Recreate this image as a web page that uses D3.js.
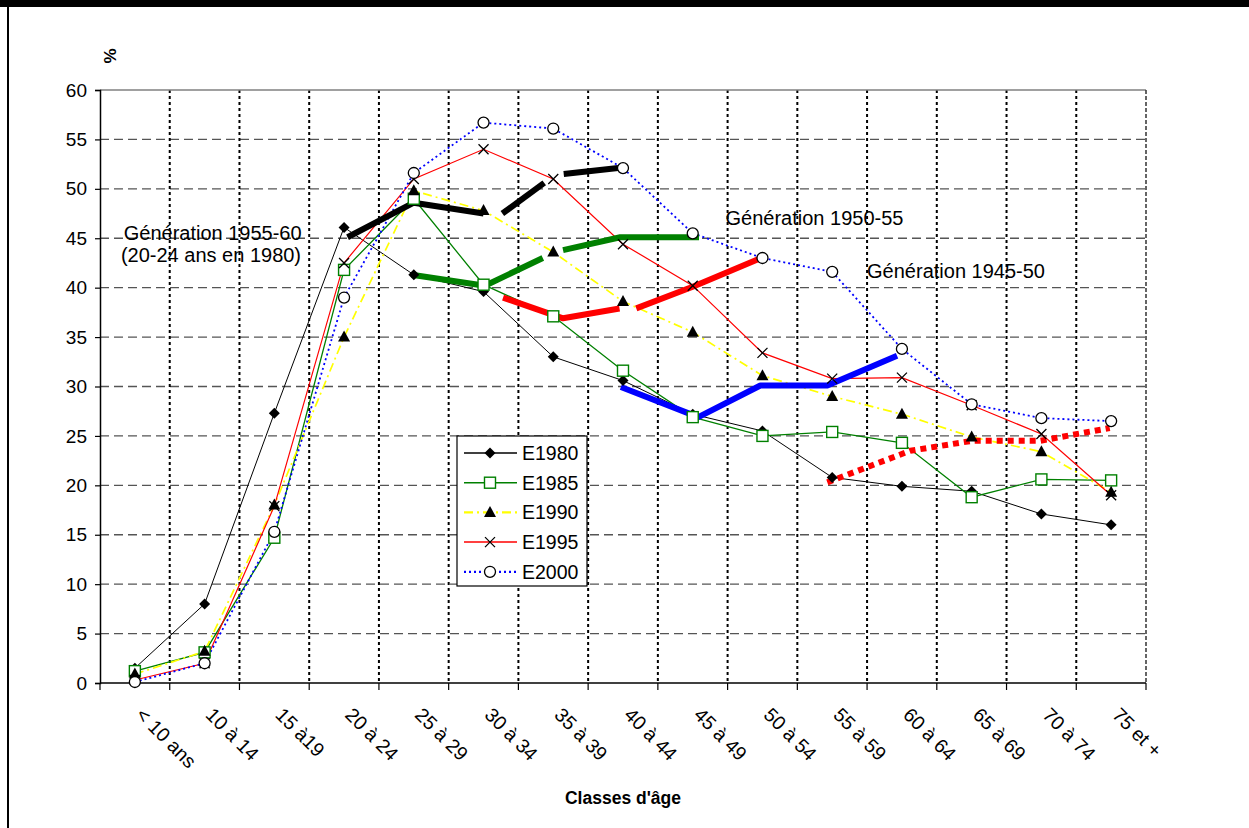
<!DOCTYPE html>
<html>
<head>
<meta charset="utf-8">
<script src="https://cdn.jsdelivr.net/npm/d3@7"></script>
<style>
  html, body { margin: 0; padding: 0; background: #fff; }
  svg { display: block; font-family: Arial, "Liberation Sans", sans-serif; }
</style>
</head>
<body>
<svg id="chart" width="1249" height="828"></svg>
<script>
// ---------------- DATA ----------------
const categories = ["< 10 ans","10 à 14","15 à19","20 à 24","25 à 29","30 à 34","35 à 39","40 à 44","45 à 49","50 à 54","55 à 59","60 à 64","65 à 69","70 à 74","75 et +"];
const yTicks = [0,5,10,15,20,25,30,35,40,45,50,55,60];
const seriesNames = ["E1980","E1985","E1990","E1995","E2000"];
const e1980 = [1.5, 8.0, 27.3, 46.1, 41.3, 39.6, 33.0, 30.6, 27.2, 25.5, 20.8, 19.9, 19.4, 17.1, 16.0];
const e1985 = [1.2, 3.1, 14.7, 41.8, 49.0, 40.3, 37.1, 31.6, 26.9, 25.0, 25.4, 24.3, 18.8, 20.6, 20.5];
const e1990 = [0.9, 3.2, 18.0, 35.0, 49.8, 47.8, 43.6, 38.6, 35.5, 31.1, 29.0, 27.2, 24.9, 23.4, 19.3];
const e1995 = [0.3, 2.0, 17.9, 42.5, 51.0, 54.0, 51.0, 44.4, 40.2, 33.4, 30.8, 30.9, 28.1, 25.2, 19.0];
const e2000 = [0.1, 2.0, 15.3, 39.0, 51.6, 56.7, 56.1, 52.1, 45.5, 43.0, 41.6, 33.8, 28.2, 26.8, 26.5];

// hand-drawn cohort lines: [category index (fractional), value]
const genBlack = [[[3.05,45.1],[4.0,48.6],[5.0,47.5]], [[5.27,47.5],[5.87,50.6]], [[6.15,51.5],[6.93,52.1]]];
const genGreen = [[[3.97,41.3],[5.02,40.2],[5.85,43.0]], [[6.14,43.8],[6.96,45.1],[8.09,45.1]]];
const genRed   = [[[5.28,39.0],[6.14,36.9],[6.95,37.9]], [[7.19,37.9],[8.0,40.1],[8.98,43.0]]];
const genBlue  = [[[6.97,29.95],[8.08,26.9],[8.97,30.1],[9.93,30.1],[10.93,33.1]]];
const genRedDot= [[[9.93,20.3],[11.12,23.5],[12.0,24.5],[12.98,24.5],[13.98,25.8]]];

const annotations = [
  {text:"Génération 1955-60", i:-0.16, v:44.8},
  {text:"(20-24 ans en 1980)", i:-0.2, v:42.6},
  {text:"Génération 1950-55", i:8.47, v:46.3},
  {text:"Génération 1945-50", i:10.5, v:41.0}
];

// ---------------- LAYOUT ----------------
const svg = d3.select("#chart");
const L = 100, R = 1146, T = 90, B = 683;
const x = d3.scaleBand().domain(categories).range([L, R]).padding(0);
const xi = d3.scaleLinear().domain([-0.5, categories.length - 0.5]).range([L, R]);
const y = d3.scaleLinear().domain([0, 60]).range([B, T]);
const cx = i => x(categories[i]) + x.bandwidth() / 2;

// outer frame
svg.append("rect").attr("x",0).attr("y",0).attr("width",1249).attr("height",7).attr("fill","#000");
svg.append("line").attr("x1",8).attr("x2",8).attr("y1",0).attr("y2",828).attr("stroke","#000").attr("stroke-width",2);

// horizontal gridlines
svg.append("g").selectAll("line").data(yTicks.filter(t => t > 0 && t < 60)).join("line")
  .attr("x1", L).attr("x2", R).attr("y1", d => y(d)).attr("y2", d => y(d))
  .attr("stroke", "#555").attr("stroke-width", 1.3).attr("stroke-dasharray", "9,5");

// vertical gridlines
svg.append("g").selectAll("line").data(categories.slice(1)).join("line")
  .attr("x1", d => x(d)).attr("x2", d => x(d)).attr("y1", T).attr("y2", B)
  .attr("stroke", "#000").attr("stroke-width", 2).attr("stroke-dasharray", "3,3");

// plot border top / right
svg.append("line").attr("x1",L).attr("x2",R).attr("y1",T).attr("y2",T).attr("stroke","#808080").attr("stroke-width",1.5);
svg.append("line").attr("x1",R).attr("x2",R).attr("y1",T).attr("y2",B).attr("stroke","#333").attr("stroke-width",1.5).attr("stroke-dasharray","4,2");

// y axis
const yAxis = d3.axisLeft(y).tickValues(yTicks).tickSize(5).tickPadding(8);
const gy = svg.append("g").attr("transform", `translate(${L},0)`).call(yAxis);
gy.select(".domain").attr("stroke","#000").attr("stroke-width",1.5);
gy.selectAll(".tick line").attr("stroke","#000").attr("stroke-width",1.2);
gy.selectAll(".tick text").attr("font-size", 19).attr("fill","#000").attr("font-family","Arial, 'Liberation Sans', sans-serif");

// x axis (ticks at category boundaries)
const boundaries = d3.range(categories.length + 1);
svg.append("line").attr("x1",L).attr("x2",R).attr("y1",B).attr("y2",B).attr("stroke","#000").attr("stroke-width",1.5);
svg.append("g").selectAll("line").data(boundaries).join("line")
  .attr("x1", d => xi(d - 0.5)).attr("x2", d => xi(d - 0.5)).attr("y1", B).attr("y2", B + 7)
  .attr("stroke", "#000").attr("stroke-width", 1.2);
svg.append("g").selectAll("text").data(categories).join("text")
  .attr("transform", (d,i) => `translate(${cx(i) + 0},${B + 33}) rotate(45)`)
  .attr("font-size", 19.5).attr("fill","#000").text(d => d);

// axis titles
svg.append("text").attr("x", 623).attr("y", 804).attr("text-anchor","middle")
  .attr("font-size", 17.5).attr("font-weight","bold").text("Classes d'âge");
svg.append("text").attr("transform","translate(116,56) rotate(-90)").attr("text-anchor","middle")
  .attr("font-size", 17).attr("font-weight","bold").text("%");

// ---------------- SERIES ----------------
const series = [
  {name:seriesNames[0], values:e1980, color:"#000", width:1, dash:null, marker:"diamond"},
  {name:seriesNames[1], values:e1985, color:"#008000", width:1.3, dash:null, marker:"square"},
  {name:seriesNames[2], values:e1990, color:"#FFFF00", width:1.7, dash:"9,4,2,4", marker:"triangle"},
  {name:seriesNames[3], values:e1995, color:"#FF0000", width:1.2, dash:null, marker:"cross"},
  {name:seriesNames[4], values:e2000, color:"#0000FF", width:1.8, dash:"2,3", marker:"circle"}
];

const line = d3.line().x((d,i) => cx(i)).y(d => y(d));
const gLines = svg.append("g");
series.forEach(s => {
  gLines.append("path").datum(s.values).attr("d", line)
    .attr("fill","none").attr("stroke", s.color).attr("stroke-width", s.width)
    .attr("stroke-dasharray", s.dash);
});

// cohort thick lines
const gline = d3.line().x(d => xi(d[0])).y(d => y(d[1]));
const gens = [
  {segs:genBlack, color:"#000", dash:null},
  {segs:genGreen, color:"#008000", dash:null},
  {segs:genRed, color:"#FF0000", dash:null},
  {segs:genBlue, color:"#0000FF", dash:null},
  {segs:genRedDot, color:"#FF0000", dash:"6,5"}
];
const gGen = svg.append("g");
gens.forEach(g => {
  g.segs.forEach(seg => {
    gGen.append("path").datum(seg).attr("d", gline)
      .attr("fill","none").attr("stroke", g.color).attr("stroke-width", 6)
      .attr("stroke-linejoin","round").attr("stroke-dasharray", g.dash);
  });
});

// markers
function drawMarker(g, type, px, py) {
  if (type === "diamond") {
    g.append("path").attr("d", `M${px},${py-5.5}L${px+5.5},${py}L${px},${py+5.5}L${px-5.5},${py}Z`).attr("fill","#000");
  } else if (type === "square") {
    g.append("rect").attr("x", px-5.5).attr("y", py-5.5).attr("width", 11).attr("height", 11)
      .attr("fill","#fff").attr("stroke","#008000").attr("stroke-width",1.4);
  } else if (type === "triangle") {
    g.append("path").attr("d", `M${px},${py-6.5}L${px+6},${py+4.5}L${px-6},${py+4.5}Z`).attr("fill","#000");
  } else if (type === "cross") {
    g.append("path").attr("d", `M${px-5},${py-5}L${px+5},${py+5}M${px+5},${py-5}L${px-5},${py+5}`)
      .attr("stroke","#000").attr("stroke-width",1.3).attr("fill","none");
  } else if (type === "circle") {
    g.append("circle").attr("cx", px).attr("cy", py).attr("r", 5.5)
      .attr("fill","#fff").attr("stroke","#000").attr("stroke-width",1.3);
  }
}
const gMarks = svg.append("g");
series.forEach(s => {
  s.values.forEach((v,i) => drawMarker(gMarks, s.marker, cx(i), y(v)));
});

// annotations
svg.append("g").selectAll("text").data(annotations).join("text")
  .attr("x", d => xi(d.i)).attr("y", d => y(d.v))
  .attr("font-size", 20).attr("fill","#000").text(d => d.text);

// ---------------- LEGEND ----------------
const leg = svg.append("g").attr("transform","translate(457,436)");
leg.append("rect").attr("x",0).attr("y",0).attr("width",130).attr("height",150)
  .attr("fill","#fff").attr("stroke","#000").attr("stroke-width",1.2);
series.forEach((s,k) => {
  const ly = 17 + k * 29.7;
  leg.append("line").attr("x1",7).attr("x2",60).attr("y1",ly).attr("y2",ly)
    .attr("stroke", s.color).attr("stroke-width", s.width < 1.5 ? 1.5 : s.width + 0.4)
    .attr("stroke-dasharray", s.dash);
  drawMarker(leg, s.marker, 33, ly);
  leg.append("text").attr("x",65).attr("y",ly).attr("dy","0.35em")
    .attr("font-size",19.5).attr("fill","#000").text(s.name);
});
</script>
</body>
</html>
